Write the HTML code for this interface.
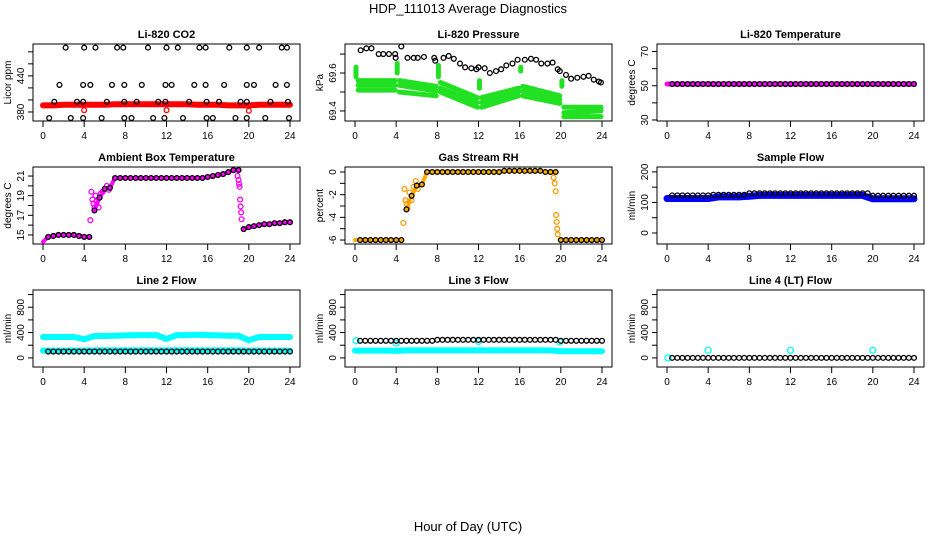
<!DOCTYPE html>
<html><head><meta charset="utf-8"><style>
html,body{margin:0;padding:0;background:#fff;width:936px;height:540px;overflow:hidden}
svg{display:block;font-family:"Liberation Sans",sans-serif}
</style></head><body>
<svg id="chart" width="936" height="540" viewBox="0 0 936 540">
<text x="468" y="13" text-anchor="middle" font-size="13">HDP_111013  Average Diagnostics</text>
<text x="468" y="531" text-anchor="middle" font-size="13">Hour of Day (UTC)</text>
</svg>
<script>
// ---- data ----
const co2TopH=[2.2,4.0,5.1,7.2,7.8,10.2,12.0,13.1,15.2,15.8,18.1,19.8,21.0,23.2,23.7];
const co2MidH=[1.6,3.9,4.6,6.7,7.9,9.6,11.9,12.5,14.7,15.8,17.6,19.8,20.5,22.6,23.7];
const co2LowH=[1.1,3.3,3.9,6.2,7.9,9.1,11.2,11.9,14.2,15.9,17.1,19.2,19.8,22.1,23.8];
const co2BotH=[0.6,2.7,3.9,5.7,7.9,8.6,10.7,11.8,13.6,15.9,16.5,18.7,19.8,21.6,23.9];
const co2Levels=[487,425,397,370];
const co2RedH=[4,12,20];
const co2RedV=[383,383,382];
const co2Band=[391,391,392,392,392,392,392,393,393,393,393,393,393,393,393,392,392,392,391,391,391,392,392,392,392];

const presBlackH=[0.55,1.1,1.6,2.3,2.75,3.3,3.9,3.95,4.5,5.1,5.7,6.1,6.7,7.7,7.8,8.6,9.1,9.6,10.2,10.7,11.3,11.8,12,12.6,13.1,13.7,14.2,14.7,15.3,15.8,16.5,17.1,17.6,18.1,18.7,19.2,19.7,19.9,20.5,21,21.6,22.2,22.7,23.2,23.7,23.9];
const presBlackV=[69.72,69.73,69.73,69.70,69.70,69.70,69.70,69.68,69.74,69.68,69.68,69.68,69.685,69.68,69.665,69.68,69.69,69.675,69.65,69.63,69.625,69.62,69.63,69.625,69.60,69.61,69.62,69.64,69.65,69.67,69.67,69.675,69.67,69.65,69.65,69.655,69.62,69.61,69.59,69.57,69.575,69.58,69.585,69.565,69.555,69.55];
const presSegStart=[0.3,4.3,8.3,12.3,16.3,20.3];
const presSegEnd=[3.9,7.9,11.9,15.9,19.9,23.9];
const presTopS=[69.56,69.56,69.55,69.47,69.53,69.42], presTopE=[69.56,69.53,69.47,69.52,69.48,69.42];
const presMidS=[69.535,69.535,69.52,69.445,69.505,69.39], presMidE=[69.535,69.505,69.445,69.50,69.46,69.40];
const presBotS=[69.51,69.50,69.50,69.42,69.48,69.37], presBotE=[69.51,69.48,69.42,69.48,69.44,69.37];
const presSpikeH=[0.1,4.1,8.1,12.1,16.1,20.1];
const presSpikeHi=[69.63,69.65,69.64,69.56,69.63,69.56], presSpikeLo=[69.58,69.60,69.58,69.52,69.61,69.53];

const tempBlack=[51,51,51,51,51,51,51,51,51,51,51,51,51,51,51,51,51,51,51,51,51,51,51,51,51,51,51,51,51,51,51,51,51,51,51,51,51,51,51,51,51,51,51,51,51,51,51,51];
const tempBand=[51,51,51,51,51,51,51,51,51,51,51,51,51,51,51,51,51,51,51,51,51,51,51,51,51];

const ambBlack=[14.8,14.9,15.0,15.0,15.0,15.0,14.9,14.8,14.8,17.5,18.8,19.7,19.8,
20.8,20.8,20.8,20.8,20.8,20.8,20.8,20.8,20.8,20.8,20.8,20.8,20.8,20.8,20.8,20.8,20.8,20.8,
20.9,21.0,21.1,21.2,21.4,21.6,21.6,
15.6,15.8,15.9,16.0,16.1,16.1,16.2,16.2,16.3,16.3];
const ambMagH=[4.6,4.7,4.8,4.9,5.0,5.1,5.2,5.4,5.6,5.8,6.2,6.4,18.9,19.0,19.05,19.1,19.15,19.2,19.25,19.3];
const ambMagV=[16.5,19.4,18.6,18.2,17.8,19.0,18.4,17.8,19.2,19.4,20.0,19.6,21.0,20.6,20.2,19.9,18.6,17.9,17.3,16.6];

const rhBlack=[-6,-6,-6,-6,-6,-6,-6,-6,-6,-3.3,-2.1,-1.2,-1.1,
0,0,0,0,0,0,0,0,0,0,0,0,0,0,0,0.1,0.1,0.1,0.1,0.1,0.1,0.1,0.1,0,0,0,
-6,-6,-6,-6,-6,-6,-6,-6,-6];
const rhOrH=[4.7,4.8,4.9,5.0,5.1,5.3,5.5,5.7,5.9,6.1,19.3,19.4,19.5,19.55,19.6,19.65,19.7];
const rhOrV=[-4.5,-1.5,-2.5,-2.8,-3.2,-1.8,-2.5,-1.3,-0.8,-1.5,-0.5,-1.0,-1.7,-3.8,-4.4,-5.0,-5.5];

const sfBlack=[123,123,123,123,123,123,123,123,125,125,125,125,125,125,125,130,130,130,130,130,130,130,130,130,130,130,130,130,130,130,130,130,130,130,130,130,130,130,130,122,122,122,122,122,122,122,122,122];
const sfBand=[113,113,113,113,113,118,118,118,120,123,123,123,123,123,123,123,123,123,123,123,112,112,112,112,112];

const l2Upper=[330,330,330,330,295,345,345,350,355,360,360,360,300,360,360,365,360,355,350,350,280,330,330,330,330];
const l2Lower=[115,115,115,115,115,118,118,118,118,118,118,118,118,118,118,118,118,118,118,118,115,115,115,115,115];
const l2Black=[100,100,100,100,100,100,100,100,100,100,100,100,100,100,100,100,100,100,100,100,100,100,100,100,100,100,100,100,100,100,100,100,100,100,100,100,100,100,100,100,100,100,100,100,100,100,100,100];

const l3Black=[270,270,270,270,270,270,270,270,270,270,270,270,270,270,270,285,285,285,285,285,285,285,285,285,285,285,285,285,285,285,285,285,285,285,285,285,285,285,285,270,270,270,270,270,270,270,270,270];
const l3Lower=[115,115,115,115,110,118,118,118,118,118,118,118,118,118,118,118,118,118,118,118,105,105,105,105,105];
const l3CyanH=[0.1,4.0,12.0,19.9];
const l3CyanV=[270,235,260,250];

const l4Black=[0,0,0,0,0,0,0,0,0,0,0,0,0,0,0,0,0,0,0,0,0,0,0,0,0,0,0,0,0,0,0,0,0,0,0,0,0,0,0,0,0,0,0,0,0,0,0,0];
const l4CyanH=[0.1,4,12,20];
const l4CyanV=[0,120,120,120];

const xTicks=[0,4,8,12,16,20,24];

// ---- drawing ----
const svg=document.getElementById('chart');
const NS='http://www.w3.org/2000/svg';
function mk(tag,attrs,parent){const e=document.createElementNS(NS,tag);for(const k in attrs)e.setAttribute(k,attrs[k]);(parent||svg).appendChild(e);return e;}
const hoursBlack=[];for(let i=1;i<=48;i++)hoursBlack.push(i*0.5);
const hoursHourly=[];for(let i=0;i<=24;i++)hoursHourly.push(i);

function panel(col,row,name,title,ylab,ymin,ymax,ticks,labels){
  const L=33+col*312,R=L+267,T=44+row*123,B=T+77;
  const g=mk('g',{});
  
  
  const xs=h=>L+10+h*(247/24);
  const ys=v=>B-(v-ymin)/(ymax-ymin)*(B-T);
  const t=mk('text',{x:(L+R)/2,y:T-6,'text-anchor':'middle','font-size':'11','font-weight':'bold'},g);
  t.textContent=title;
  
  
  const box=mk('rect',{x:L,y:T,width:R-L,height:B-T,fill:'none',stroke:'#000','stroke-width':1},g);
  
  
  const xa=mk('g',{},g);
  
  
  mk('line',{x1:xs(0),x2:xs(24),y1:B,y2:B,stroke:'#000'},xa);
  xTicks.forEach(h=>{mk('line',{x1:xs(h),x2:xs(h),y1:B,y2:B+6,stroke:'#000'},xa);
    const tl=mk('text',{x:xs(h),y:B+18,'text-anchor':'middle','font-size':'10'},xa);tl.textContent=h;});
  const ya=mk('g',{},g);
  
  
  ticks.forEach((v,i)=>{const y=ys(v);mk('line',{x1:L-5,x2:L,y1:y,y2:y,stroke:'#000'},ya);
    if(labels[i]!==''){const tl=mk('text',{x:L-9,y:y,'text-anchor':'middle','font-size':'10',transform:`rotate(-90 ${L-9} ${y})`},ya);tl.textContent=labels[i];}});
  const yl=mk('text',{x:L-22,y:(T+B)/2,'text-anchor':'middle','font-size':'10',transform:`rotate(-90 ${L-22} ${(T+B)/2})`},g);
  yl.textContent=ylab;
  
  
  return {g,xs,ys};
}
function band(p,hs,vs,color,w,nm){
  const pts=hs.map((h,i)=>p.xs(h).toFixed(1)+','+p.ys(vs[i]).toFixed(1)).join(' ');
  const e=mk('polyline',{points:pts,fill:'none',stroke:color,'stroke-width':w,'stroke-linejoin':'round','stroke-linecap':'round'},p.g);
  
  
}
function pts(p,hs,vs,color,nm,r){
  const gg=mk('g',{},p.g);
  
  
  hs.forEach((h,i)=>mk('circle',{cx:p.xs(h),cy:p.ys(vs[i]),r:r||2.4,fill:'none',stroke:color,'stroke-width':1.3},gg));
}

// 1 CO2
let p=panel(0,0,'co2','Li-820 CO2','Licor ppm',365,493,[380,400,420,440,460,480],['380','','','440','','']);
band(p,hoursHourly,co2Band,'#ff0000',6,'co2-band');
pts(p,co2RedH,co2RedV,'#ff0000','co2-red-points');
[co2TopH,co2MidH,co2LowH,co2BotH].forEach((hs,k)=>pts(p,hs,hs.map(()=>co2Levels[k]),'#000','co2-black-level-'+k));

// 2 Pressure
p=panel(1,0,'pressure','Li-820 Pressure','kPa',69.347,69.753,[69.4,69.5,69.6,69.7],['69.4','','69.6','']);
presSegStart.forEach((s,i)=>{
  band(p,[s,presSegEnd[i]],[presTopS[i],presTopE[i]],'#22e022',5,'pressure-green-top-'+i);
  band(p,[s,presSegEnd[i]],[presMidS[i],presMidE[i]],'#22e022',5,'pressure-green-mid-'+i);
  band(p,[s,presSegEnd[i]],[presBotS[i],presBotE[i]],'#22e022',5,'pressure-green-bottom-'+i);
  band(p,[presSpikeH[i],presSpikeH[i]],[presSpikeHi[i],presSpikeLo[i]],'#22e022',5,'pressure-green-spike-'+i);
});
pts(p,presBlackH,presBlackV,'#000','pressure-black-points');

// 3 Temperature
p=panel(2,0,'li820-temp','Li-820 Temperature','degrees C',29.4,74.4,[30,40,50,60,70],['30','','50','','70']);
band(p,hoursHourly,tempBand,'#ff00ff',5,'li820-temp-band');
pts(p,hoursBlack,tempBlack,'#000','li820-temp-black-points');

// 4 Ambient
p=panel(0,1,'ambient','Ambient Box Temperature','degrees C',14.08,21.92,[15,16,17,18,19,20,21],['15','','17','','19','','21']);
band(p,[0].concat(hoursBlack.slice(0,9)),[14.3].concat(ambBlack.slice(0,9)),'#ff00ff',4,'ambient-band-a');
band(p,hoursBlack.slice(9,38),ambBlack.slice(9,38),'#ff00ff',4,'ambient-band-b');
band(p,hoursBlack.slice(38),ambBlack.slice(38),'#ff00ff',4,'ambient-band-c');
pts(p,ambMagH,ambMagV,'#ff00ff','ambient-magenta-scatter');
pts(p,hoursBlack,ambBlack,'#000','ambient-black-points');

// 5 RH
p=panel(1,1,'rh','Gas Stream RH','percent',-6.35,0.44,[0,-1,-2,-3,-4,-5,-6],['0','','-2','','-4','','-6']);
band(p,[0].concat(hoursBlack.slice(0,9)),[-6].concat(rhBlack.slice(0,9)),'#ffb000',4,'rh-band-a');
band(p,hoursBlack.slice(9,39),rhBlack.slice(9,39),'#ffb000',4,'rh-band-b');
band(p,hoursBlack.slice(39),rhBlack.slice(39),'#ffb000',4,'rh-band-c');
pts(p,rhOrH,rhOrV,'#ff9900','rh-orange-scatter');
pts(p,hoursBlack,rhBlack,'#000','rh-black-points');

// 6 Sample flow
p=panel(2,1,'sample-flow','Sample Flow','ml/min',-36,216,[0,50,100,150,200],['0','','100','','200']);
band(p,hoursHourly,sfBand,'#0000ff',7,'sample-flow-band');
pts(p,hoursBlack,sfBlack,'#000','sample-flow-black-points');

// 7 Line 2
p=panel(0,2,'line2','Line 2 Flow','ml/min',-144,1072,[0,200,400,600,800,1000],['0','','400','','800','']);
band(p,hoursHourly,l2Upper,'#00ffff',6,'line2-cyan-upper');
band(p,hoursHourly,l2Lower,'#00ffff',6,'line2-cyan-lower');
pts(p,hoursBlack,l2Black,'#000','line2-black-points');

// 8 Line 3
p=panel(1,2,'line3','Line 3 Flow','ml/min',-144,1072,[0,200,400,600,800,1000],['0','','400','','800','']);
band(p,hoursHourly,l3Lower,'#00ffff',6,'line3-cyan-lower');
pts(p,l3CyanH,l3CyanV,'#00ffff','line3-cyan-points',3);
pts(p,hoursBlack,l3Black,'#000','line3-black-points');

// 9 Line 4
p=panel(2,2,'line4','Line 4 (LT) Flow','ml/min',-144,1072,[0,200,400,600,800,1000],['0','','400','','800','']);
pts(p,l4CyanH,l4CyanV,'#00ffff','line4-cyan-points',3);
pts(p,hoursBlack,l4Black,'#000','line4-black-points');
</script>
</body></html>
